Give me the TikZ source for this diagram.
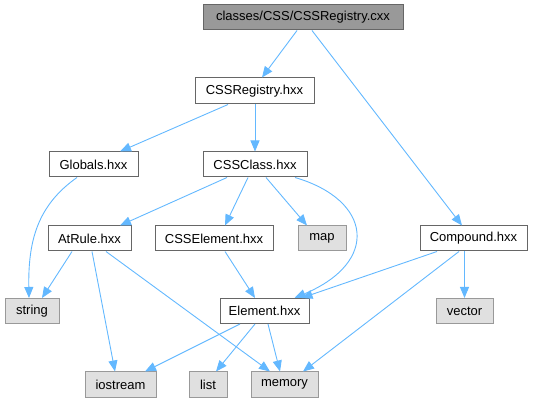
\documentclass[tikz,border=0pt]{standalone}
\usepackage{fontspec}
\setmainfont{Liberation Sans}
\usetikzlibrary{arrows.meta}
\definecolor{edgec}{HTML}{63B8FF}
\definecolor{bordc}{HTML}{666666}
\definecolor{rootc}{HTML}{999999}
\definecolor{extc}{HTML}{E0E0E0}
\definecolor{extb}{HTML}{999999}
\tikzset{
  base/.style={rectangle, inner sep=0pt, minimum height=25pt, font=\fontsize{13}{15}\selectfont, line width=1pt},
  rootbox/.style={base, fill=rootc, draw=bordc},
  filebox/.style={base, fill=white, draw=bordc},
  extbox/.style={base, fill=extc, draw=extb},
  dep/.style={draw=edgec, line width=0.9pt, -{Triangle[length=11pt,width=9pt]}}
}
\begin{document}
\begin{tikzpicture}[x=1pt,y=-1pt]
\useasboundingbox (0,0) rectangle (533,403);
\node[rootbox, minimum width=200pt] (root) at (303,17.5) {classes/CSS/CSSRegistry.cxx};
\node[filebox, minimum width=119pt, minimum height=26pt] (cssreg) at (254.5,91) {CSSRegistry.hxx};
\node[filebox, minimum width=89pt] (globals) at (93.5,164.5) {Globals.hxx};
\node[filebox, minimum width=104pt] (cssclass) at (255,164.5) {CSSClass.hxx};
\node[filebox, minimum width=83pt] (atrule) at (89.5,238.5) {AtRule.hxx};
\node[filebox, minimum width=118pt] (csselem) at (214,238.5) {CSSElement.hxx};
\node[extbox, minimum width=48pt] (map) at (322,238.5) {map};
\node[filebox, minimum width=107pt] (compound) at (473.5,238.5) {Compound.hxx};
\node[extbox, minimum width=54pt] (string) at (32,311) {string};
\node[filebox, minimum width=89pt] (element) at (264.5,311) {Element.hxx};
\node[extbox, minimum width=57pt] (vector) at (464.5,311) {vector};
\node[extbox, minimum width=71pt] (iostream) at (120.5,384.5) {iostream};
\node[extbox, minimum width=38pt] (list) at (208,384.5) {list};
\node[extbox, minimum width=67pt] (memory) at (284.5,384.5) {memory};

\draw[dep] ([xshift=-6pt]root.south) -- ([xshift=7.5pt]cssreg.north);
\draw[dep] ([xshift=9pt]root.south) -- ([xshift=-11.5pt]compound.north);
\draw[dep] ([xshift=-26.5pt]cssreg.south) -- ([xshift=26.5pt]globals.north);
\draw[dep] ([xshift=0.5pt]cssreg.south) -- (cssclass.north);
\draw[dep] ([xshift=-16.5pt]globals.south) .. controls (38,205) and (28,240) .. ([xshift=-3pt]string.north);
\draw[dep] ([xshift=-28pt]cssclass.south) -- ([xshift=30.5pt]atrule.north);
\draw[dep] ([xshift=-7pt]cssclass.south) -- ([xshift=11pt]csselem.north);
\draw[dep] ([xshift=11pt]cssclass.south) -- ([xshift=-15pt]map.north);
\draw[dep] ([xshift=40pt]cssclass.south) .. controls (372,200) and (380,262) .. ([xshift=30pt]element.north);
\draw[dep] ([xshift=11pt]csselem.south) -- ([xshift=-9.5pt]element.north);
\draw[dep] ([xshift=-36.5pt]compound.south) -- ([xshift=37pt]element.north);
\draw[dep] ([xshift=-14.5pt]compound.south) -- ([xshift=18.5pt]memory.north);
\draw[dep] ([xshift=-9pt]compound.south) -- (vector.north);
\draw[dep] ([xshift=-17.5pt]atrule.south) -- ([xshift=10pt]string.north);
\draw[dep] ([xshift=2.5pt]atrule.south) -- ([xshift=-5.5pt]iostream.north);
\draw[dep] ([xshift=16.5pt]atrule.south) -- ([xshift=-14.5pt]memory.north);
\draw[dep] ([xshift=-24.5pt]element.south) -- ([xshift=24.5pt]iostream.north);
\draw[dep] ([xshift=-9.5pt]element.south) -- ([xshift=8pt]list.north);
\draw[dep] ([xshift=3.5pt]element.south) -- ([xshift=-4.5pt]memory.north);
\end{tikzpicture}
\end{document}
